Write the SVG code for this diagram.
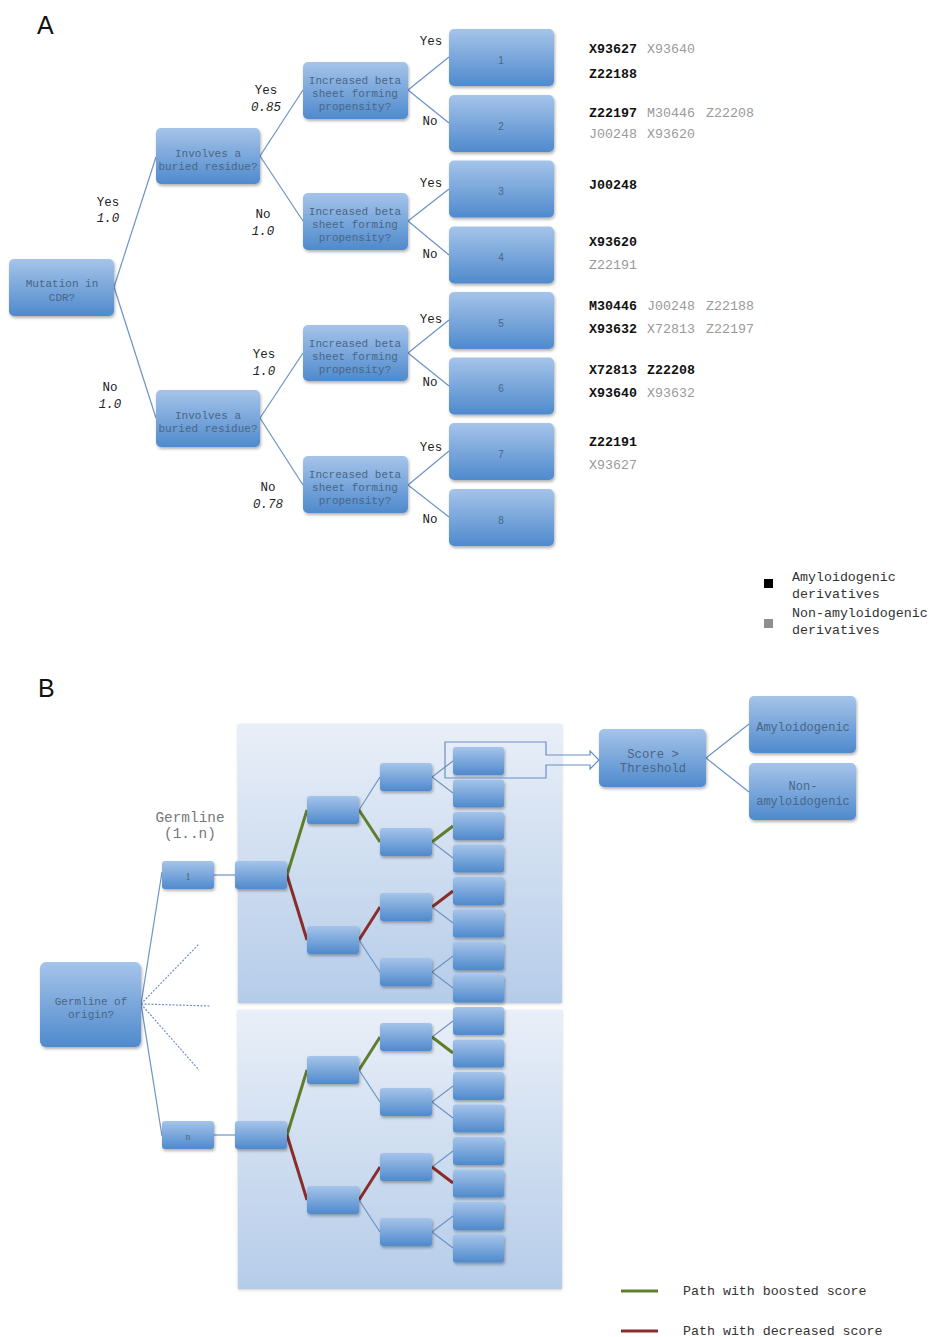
<svg xmlns="http://www.w3.org/2000/svg" width="930" height="1337" viewBox="0 0 930 1337">
<defs>
<linearGradient id="ng" x1="0" y1="0" x2="0" y2="1">
<stop offset="0" stop-color="#a5c4ea"/>
<stop offset="1" stop-color="#4f8acd"/>
</linearGradient>
<linearGradient id="bg" x1="0" y1="0" x2="0" y2="1">
<stop offset="0" stop-color="#e9eff8"/>
<stop offset="1" stop-color="#b5cce9"/>
</linearGradient>
<filter id="sh" x="-15%" y="-15%" width="140%" height="150%">
<feDropShadow dx="1" dy="2" stdDeviation="1.5" flood-color="#000" flood-opacity="0.3"/>
</filter>
<filter id="shb" x="-5%" y="-5%" width="110%" height="110%">
<feDropShadow dx="0" dy="1" stdDeviation="1.5" flood-color="#000" flood-opacity="0.2"/>
</filter>
</defs>
<style>
.n{fill:url(#ng);filter:url(#sh)}
.p{fill:url(#bg);filter:url(#shb)}
.t{font-family:"Liberation Mono",monospace;font-size:11px;fill:#4a6685;text-anchor:middle}
.num{font-family:"Liberation Sans",sans-serif;font-size:10px;fill:#4a6685;text-anchor:middle}
.lb{font-family:"Liberation Mono",monospace;font-size:12.5px;fill:#222;text-anchor:middle}
.lbi{font-family:"Liberation Mono",monospace;font-size:12.5px;fill:#222;text-anchor:middle;font-style:italic}
.id{font-family:"Liberation Mono",monospace;font-size:13.3px;font-weight:bold;fill:#111}
.ig{font-family:"Liberation Mono",monospace;font-size:13.3px;fill:#9a9a9a}
.lg{font-family:"Liberation Mono",monospace;font-size:13.3px;fill:#333}
.hd{font-family:"Liberation Sans",sans-serif;font-size:25px;fill:#111}
.c{stroke:#6c93c7;stroke-width:1.2;fill:none}
.cd{stroke:#6c93c7;stroke-width:1.2;fill:none;stroke-dasharray:2,1.5}
.g{stroke:#5f7e2c;stroke-width:3;fill:none}
.r{stroke:#8a2c2a;stroke-width:3;fill:none}
</style>
<rect width="930" height="1337" fill="#fff"/>

<text class="hd" x="37" y="34">A</text>
<text class="hd" x="38" y="697">B</text>

<g id="panelsB">
<rect class="p" x="238" y="724" width="324" height="279"/>
<rect class="p" x="238" y="1010" width="324" height="279"/>
</g>

<g id="connectors">
<line class="c" x1="114" y1="287" x2="156" y2="157"/>
<line class="c" x1="114" y1="287" x2="156" y2="418"/>
<line class="c" x1="260" y1="156" x2="303" y2="90"/>
<line class="c" x1="260" y1="156" x2="303" y2="221"/>
<line class="c" x1="260" y1="418" x2="303" y2="353"/>
<line class="c" x1="260" y1="418" x2="303" y2="485"/>
<line class="c" x1="408" y1="90" x2="449" y2="57"/>
<line class="c" x1="408" y1="90" x2="449" y2="123"/>
<line class="c" x1="408" y1="221" x2="449" y2="189"/>
<line class="c" x1="408" y1="221" x2="449" y2="255"/>
<line class="c" x1="408" y1="353" x2="449" y2="320"/>
<line class="c" x1="408" y1="353" x2="449" y2="386"/>
<line class="c" x1="408" y1="485" x2="449" y2="451"/>
<line class="c" x1="408" y1="485" x2="449" y2="517"/>

<line class="c" x1="141" y1="1004" x2="162" y2="872"/>
<line class="c" x1="141" y1="1004" x2="162" y2="1136"/>
<line class="cd" x1="141" y1="1004" x2="199" y2="944"/>
<line class="cd" x1="141" y1="1004" x2="210" y2="1006"/>
<line class="cd" x1="141" y1="1004" x2="199" y2="1070"/>

<line class="c" x1="214" y1="875" x2="235" y2="875"/>
<line class="g" x1="287" y1="875" x2="307" y2="810"/>
<line class="r" x1="287" y1="875" x2="307" y2="940"/>
<line class="c" x1="359" y1="810" x2="380" y2="777"/>
<line class="g" x1="359" y1="810" x2="380" y2="842"/>
<line class="r" x1="359" y1="940" x2="380" y2="907"/>
<line class="c" x1="359" y1="940" x2="380" y2="972"/>
<line class="c" x1="432" y1="777" x2="453" y2="761"/>
<line class="c" x1="432" y1="777" x2="453" y2="793"/>
<line class="g" x1="432" y1="842" x2="453" y2="826"/>
<line class="c" x1="432" y1="842" x2="453" y2="858"/>
<line class="r" x1="432" y1="907" x2="453" y2="891"/>
<line class="c" x1="432" y1="907" x2="453" y2="923"/>
<line class="c" x1="432" y1="972" x2="453" y2="956"/>
<line class="c" x1="432" y1="972" x2="453" y2="988"/>

<line class="c" x1="214" y1="1135" x2="235" y2="1135"/>
<line class="g" x1="287" y1="1135" x2="307" y2="1070"/>
<line class="r" x1="287" y1="1135" x2="307" y2="1200"/>
<line class="g" x1="359" y1="1070" x2="380" y2="1037"/>
<line class="c" x1="359" y1="1070" x2="380" y2="1102"/>
<line class="r" x1="359" y1="1200" x2="380" y2="1167"/>
<line class="c" x1="359" y1="1200" x2="380" y2="1232"/>
<line class="c" x1="432" y1="1037" x2="453" y2="1021"/>
<line class="g" x1="432" y1="1037" x2="453" y2="1053"/>
<line class="c" x1="432" y1="1102" x2="453" y2="1086"/>
<line class="c" x1="432" y1="1102" x2="453" y2="1118"/>
<line class="c" x1="432" y1="1167" x2="453" y2="1151"/>
<line class="r" x1="432" y1="1167" x2="453" y2="1183"/>
<line class="c" x1="432" y1="1232" x2="453" y2="1216"/>
<line class="c" x1="432" y1="1232" x2="453" y2="1248"/>

<line class="c" x1="706" y1="758" x2="749" y2="724"/>
<line class="c" x1="706" y1="758" x2="749" y2="792"/>
</g>

<g id="edgelabels">
<text class="lb" x="108" y="206">Yes</text><text class="lbi" x="108" y="222">1.0</text>
<text class="lb" x="110" y="391">No</text><text class="lbi" x="110" y="408">1.0</text>
<text class="lb" x="266" y="94">Yes</text><text class="lbi" x="266" y="111">0.85</text>
<text class="lb" x="263" y="218">No</text><text class="lbi" x="263" y="235">1.0</text>
<text class="lb" x="264" y="358">Yes</text><text class="lbi" x="264" y="375">1.0</text>
<text class="lb" x="268" y="491">No</text><text class="lbi" x="268" y="508">0.78</text>
<text class="lb" x="431" y="45">Yes</text>
<text class="lb" x="430" y="125">No</text>
<text class="lb" x="431" y="187">Yes</text>
<text class="lb" x="430" y="258">No</text>
<text class="lb" x="431" y="323">Yes</text>
<text class="lb" x="430" y="386">No</text>
<text class="lb" x="431" y="451">Yes</text>
<text class="lb" x="430" y="523">No</text>
</g>

<g id="mutation">
<rect class="n" x="9" y="259" width="105" height="57" rx="5"/>
<text class="t" x="62" y="287">Mutation in</text>
<text class="t" x="62" y="301">CDR?</text>
</g>
<g id="buried1">
<rect class="n" x="156" y="128" width="104" height="56" rx="5"/>
<text class="t" x="208" y="157">Involves a</text>
<text class="t" x="208" y="170">buried residue?</text>
</g>
<g id="buried2">
<rect class="n" x="156" y="390" width="104" height="57" rx="5"/>
<text class="t" x="208" y="419">Involves a</text>
<text class="t" x="208" y="432">buried residue?</text>
</g>
<g id="beta1">
<rect class="n" x="303" y="62" width="105" height="57" rx="5"/>
<text class="t" x="355" y="84">Increased beta</text>
<text class="t" x="355" y="97">sheet forming</text>
<text class="t" x="355" y="110">propensity?</text>
</g>
<g id="beta2">
<rect class="n" x="303" y="193" width="105" height="57" rx="5"/>
<text class="t" x="355" y="215">Increased beta</text>
<text class="t" x="355" y="228">sheet forming</text>
<text class="t" x="355" y="241">propensity?</text>
</g>
<g id="beta3">
<rect class="n" x="303" y="325" width="105" height="56" rx="5"/>
<text class="t" x="355" y="347">Increased beta</text>
<text class="t" x="355" y="360">sheet forming</text>
<text class="t" x="355" y="373">propensity?</text>
</g>
<g id="beta4">
<rect class="n" x="303" y="456" width="105" height="57" rx="5"/>
<text class="t" x="355" y="478">Increased beta</text>
<text class="t" x="355" y="491">sheet forming</text>
<text class="t" x="355" y="504">propensity?</text>
</g>
<g id="leaf1"><rect class="n" x="449" y="29" width="105" height="57" rx="5"/><text class="num" x="501" y="64">1</text></g>
<g id="leaf2"><rect class="n" x="449" y="95" width="105" height="57" rx="5"/><text class="num" x="501" y="130">2</text></g>
<g id="leaf3"><rect class="n" x="449" y="160.5" width="105" height="57" rx="5"/><text class="num" x="501" y="195">3</text></g>
<g id="leaf4"><rect class="n" x="449" y="226.5" width="105" height="57" rx="5"/><text class="num" x="501" y="261">4</text></g>
<g id="leaf5"><rect class="n" x="449" y="292" width="105" height="57" rx="5"/><text class="num" x="501" y="327">5</text></g>
<g id="leaf6"><rect class="n" x="449" y="357.5" width="105" height="57" rx="5"/><text class="num" x="501" y="392">6</text></g>
<g id="leaf7"><rect class="n" x="449" y="423" width="105" height="57" rx="5"/><text class="num" x="501" y="458">7</text></g>
<g id="leaf8"><rect class="n" x="449" y="489" width="105" height="57" rx="5"/><text class="num" x="501" y="524">8</text></g>

<g id="ids">
<text class="id" x="589" y="53">X93627</text><text class="ig" x="647" y="53">X93640</text>
<text class="id" x="589" y="78">Z22188</text>
<text class="id" x="589" y="117">Z22197</text><text class="ig" x="647" y="117">M30446</text><text class="ig" x="706" y="117">Z22208</text>
<text class="ig" x="589" y="138">J00248</text><text class="ig" x="647" y="138">X93620</text>
<text class="id" x="589" y="189">J00248</text>
<text class="id" x="589" y="246">X93620</text>
<text class="ig" x="589" y="269">Z22191</text>
<text class="id" x="589" y="310">M30446</text><text class="ig" x="647" y="310">J00248</text><text class="ig" x="706" y="310">Z22188</text>
<text class="id" x="589" y="333">X93632</text><text class="ig" x="647" y="333">X72813</text><text class="ig" x="706" y="333">Z22197</text>
<text class="id" x="589" y="374">X72813</text><text class="id" x="647" y="374">Z22208</text>
<text class="id" x="589" y="397">X93640</text><text class="ig" x="647" y="397">X93632</text>
<text class="id" x="589" y="446">Z22191</text>
<text class="ig" x="589" y="469">X93627</text>
</g>

<g id="legendA">
<rect x="764" y="579" width="9" height="9" fill="#000"/>
<rect x="764" y="619" width="9" height="9" fill="#8f8f8f"/>
<text class="lg" x="792" y="581">Amyloidogenic</text>
<text class="lg" x="792" y="598">derivatives</text>
<text class="lg" x="792" y="617">Non-amyloidogenic</text>
<text class="lg" x="792" y="634">derivatives</text>
</g>

<g id="germlineOrigin">
<rect class="n" x="40" y="962" width="101" height="85" rx="6"/>
<text class="t" x="91" y="1005">Germline of</text>
<text class="t" x="91" y="1018">origin?</text>
</g>
<g id="germlineLabel">
<text x="190" y="822" font-family="Liberation Mono, monospace" font-size="14.4" fill="#777" text-anchor="middle">Germline</text>
<text x="190" y="838" font-family="Liberation Mono, monospace" font-size="14.4" fill="#777" text-anchor="middle">(1..n)</text>
</g>
<g id="g1"><rect class="n" x="162" y="861" width="52" height="28" rx="3"/><text x="188" y="880" font-family="Liberation Serif, serif" font-size="10" fill="#4a6685" text-anchor="middle">1</text></g>
<g id="gn"><rect class="n" x="162" y="1121" width="52" height="28" rx="3"/><text x="188" y="1140" font-family="Liberation Serif, serif" font-size="10" fill="#4a6685" text-anchor="middle">n</text></g>

<g id="tree1">
<rect class="n" x="235" y="861" width="52" height="28" rx="3"/>
<rect class="n" x="307" y="796" width="52" height="28" rx="3"/>
<rect class="n" x="307" y="926" width="52" height="28" rx="3"/>
<rect class="n" x="380" y="763" width="52" height="28" rx="3"/>
<rect class="n" x="380" y="828" width="52" height="28" rx="3"/>
<rect class="n" x="380" y="893" width="52" height="28" rx="3"/>
<rect class="n" x="380" y="958" width="52" height="28" rx="3"/>
</g>
<g id="tree2">
<rect class="n" x="235" y="1121" width="52" height="28" rx="3"/>
<rect class="n" x="307" y="1056" width="52" height="28" rx="3"/>
<rect class="n" x="307" y="1186" width="52" height="28" rx="3"/>
<rect class="n" x="380" y="1023" width="52" height="28" rx="3"/>
<rect class="n" x="380" y="1088" width="52" height="28" rx="3"/>
<rect class="n" x="380" y="1153" width="52" height="28" rx="3"/>
<rect class="n" x="380" y="1218" width="52" height="28" rx="3"/>
</g>
<g id="leavesB">
<rect class="n" x="453" y="747" width="51" height="28" rx="3"/>
<rect class="n" x="453" y="779.5" width="51" height="28" rx="3"/>
<rect class="n" x="453" y="812" width="51" height="28" rx="3"/>
<rect class="n" x="453" y="844.5" width="51" height="28" rx="3"/>
<rect class="n" x="453" y="877" width="51" height="28" rx="3"/>
<rect class="n" x="453" y="909.5" width="51" height="28" rx="3"/>
<rect class="n" x="453" y="942" width="51" height="28" rx="3"/>
<rect class="n" x="453" y="974.5" width="51" height="28" rx="3"/>
<rect class="n" x="453" y="1007" width="51" height="28" rx="3"/>
<rect class="n" x="453" y="1039.5" width="51" height="28" rx="3"/>
<rect class="n" x="453" y="1072" width="51" height="28" rx="3"/>
<rect class="n" x="453" y="1104.5" width="51" height="28" rx="3"/>
<rect class="n" x="453" y="1137" width="51" height="28" rx="3"/>
<rect class="n" x="453" y="1169.5" width="51" height="28" rx="3"/>
<rect class="n" x="453" y="1202" width="51" height="28" rx="3"/>
<rect class="n" x="453" y="1234.5" width="51" height="28" rx="3"/>
</g>

<g id="highlightArrow">
<path d="M445,742 H546 V755 H590 V751 L599,760 L590,769 V765 H546 V778 H445 Z" fill="none" stroke="#6b8fc2" stroke-width="1.2"/>
</g>

<g id="score">
<rect class="n" x="599" y="729" width="107" height="58" rx="5"/>
<text class="t" x="653" y="758" style="font-size:12.3px">Score &gt;</text>
<text class="t" x="653" y="772" style="font-size:12.3px">Threshold</text>
</g>
<g id="amy">
<rect class="n" x="749" y="696" width="107" height="57" rx="5"/>
<text class="t" x="803" y="731" style="font-size:12px">Amyloidogenic</text>
</g>
<g id="nonamy">
<rect class="n" x="749" y="763" width="107" height="57" rx="5"/>
<text class="t" x="803" y="790" style="font-size:12px">Non-</text>
<text class="t" x="803" y="805" style="font-size:12px">amyloidogenic</text>
</g>

<g id="legendB">
<line x1="621" y1="1291" x2="658" y2="1291" stroke="#5f7e2c" stroke-width="3"/>
<line x1="621" y1="1331" x2="658" y2="1331" stroke="#8a2c2a" stroke-width="3"/>
<text class="lg" x="683" y="1295">Path with boosted score</text>
<text class="lg" x="683" y="1335">Path with decreased score</text>
</g>
</svg>
